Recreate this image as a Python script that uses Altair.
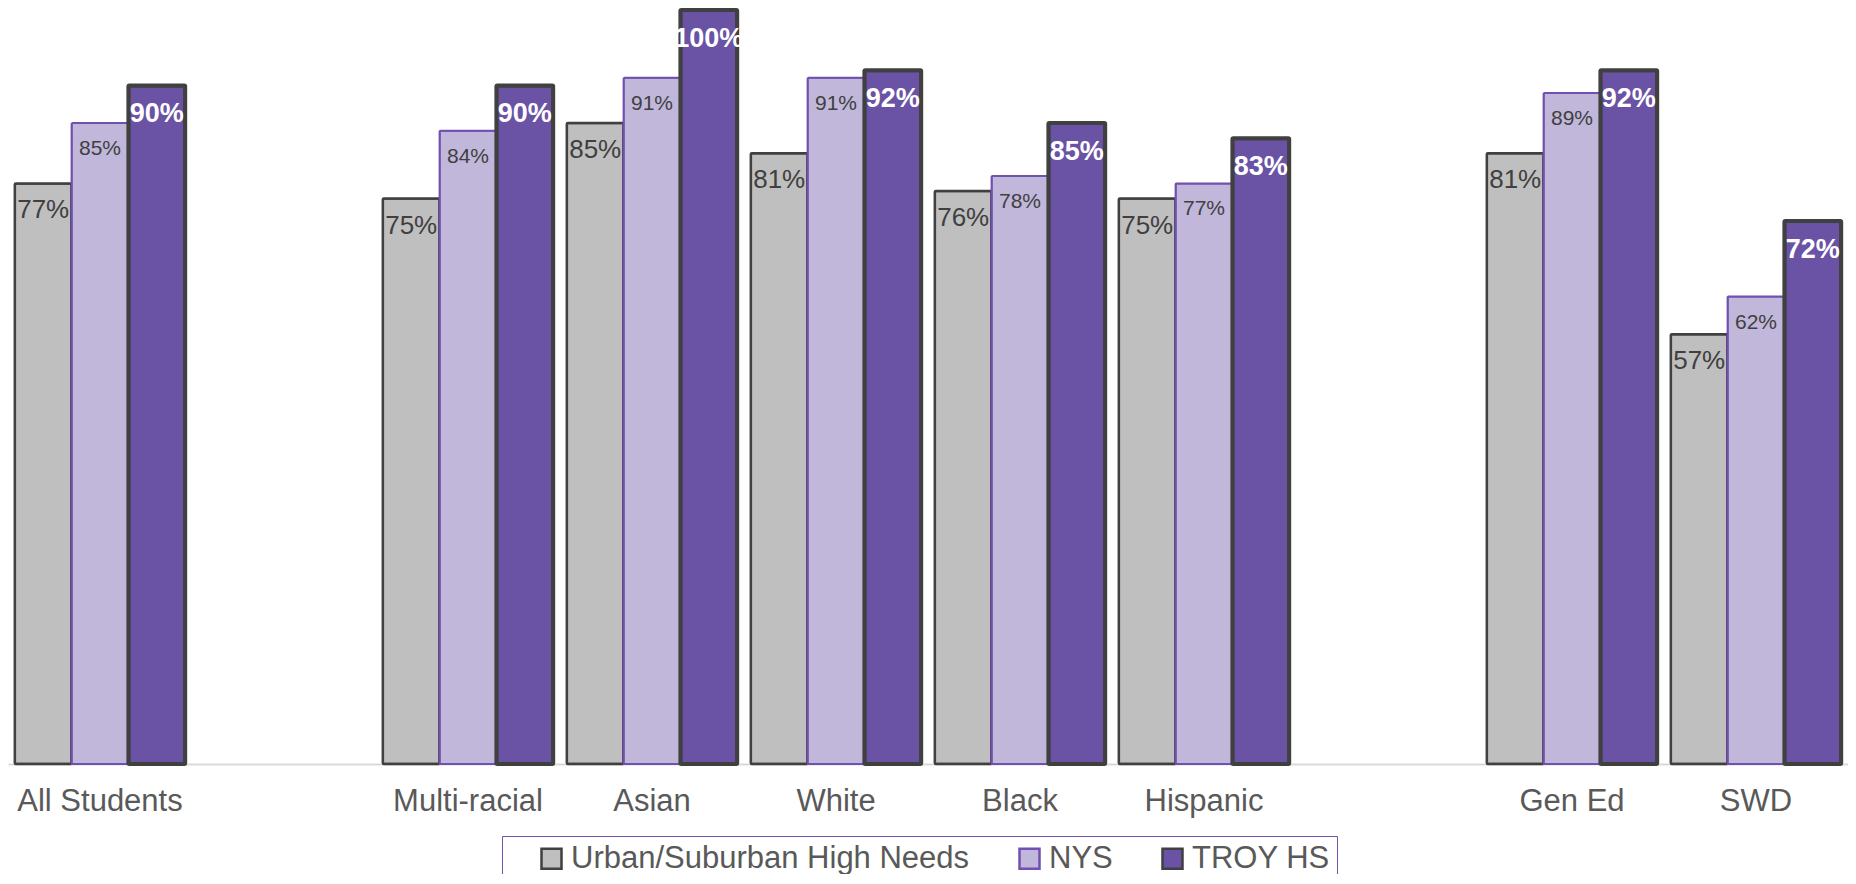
import altair as alt
import pandas as pd

categories = ["All Students", "Multi-racial", "Asian", "White", "Black", "Hispanic", "Gen Ed", "SWD"]
domain = ["All Students", " ", "Multi-racial", "Asian", "White", "Black", "Hispanic", "  ", "Gen Ed", "SWD"]
series = ["Urban/Suburban High Needs", "NYS", "TROY HS"]
urban = [77, 75, 85, 81, 76, 75, 81, 57]
nys = [85, 84, 91, 91, 78, 77, 89, 62]
troy = [90, 90, 100, 92, 85, 83, 92, 72]

rows = []
for s, vals in zip(series, [urban, nys, troy]):
    for c, v in zip(categories, vals):
        rows.append({"category": c, "series": s, "value": v, "label": f"{v}%"})
df = pd.DataFrame(rows)

FONT = "Liberation Sans"

x = alt.X("category:N", scale=alt.Scale(domain=domain, paddingInner=0.074, paddingOuter=0.037),
          axis=alt.Axis(title=None, labelAngle=0, labelFontSize=31, labelColor="#595959", labelFont=FONT,
                        ticks=False, domainColor="#D9D9D9", domainWidth=2, labelPadding=22))
xo = alt.XOffset("series:N", scale=alt.Scale(domain=series, paddingInner=0, paddingOuter=0))
y = alt.Y("value:Q", scale=alt.Scale(domain=[0, 100]), axis=None)

legend = alt.Legend(title=" ", titleOrient="left", titlePadding=27, titleFontSize=31,
                    orient="none", legendX=494, legendY=826, direction="horizontal",
                    symbolType="square", symbolSize=400, symbolStrokeWidth=2.5, labelFontSize=31,
                    labelColor="#595959", labelFont=FONT, labelOffset=4, labelLimit=0,
                    columnPadding=44, strokeColor="#7050B0", padding=7)

fill = alt.Fill("series:N", scale=alt.Scale(domain=series, range=["#BFBFBF", "#C1B7DB", "#6A52A5"]),
                legend=legend)
stroke = alt.Stroke("series:N", scale=alt.Scale(domain=series, range=["#404040", "#7050B0", "#404040"]),
                    legend=legend)

widths = [2.5, 2, 4]
bar_layers = []
for s, w in zip(series, widths):
    bar_layers.append(
        alt.Chart(df).transform_filter(alt.datum.series == s).mark_bar(
            cornerRadius=1, strokeWidth=w
        ).encode(x=x, xOffset=xo, y=y, fill=fill, stroke=stroke)
    )

t_urban = alt.Chart(df).transform_filter(alt.datum.series == series[0]).mark_text(
    baseline="middle", align="center", dy=27, fontSize=26, font=FONT, color="#404040"
).encode(x=x, xOffset=xo, y=y, text="label:N")

t_nys = alt.Chart(df).transform_filter(alt.datum.series == series[1]).mark_text(
    baseline="middle", align="center", dy=26, fontSize=21, font=FONT, color="#404040"
).encode(x=x, xOffset=xo, y=y, text="label:N")

t_troy = alt.Chart(df).transform_filter(alt.datum.series == series[2]).mark_text(
    baseline="middle", align="center", dy=29, fontSize=27, font=FONT, fontWeight="bold", color="#FFFFFF"
).encode(x=x, xOffset=xo, y=y, text="label:N")

chart = alt.layer(*bar_layers, t_urban, t_nys, t_troy).properties(
    width=1840, height=754,
    autosize=alt.AutoSizeParams(type="none"),
    padding={"top": 2, "left": 0, "right": 0, "bottom": 110},
).configure_view(stroke=None)

chart.save("out.html", embed_options={"renderer": "svg", "actions": False})
